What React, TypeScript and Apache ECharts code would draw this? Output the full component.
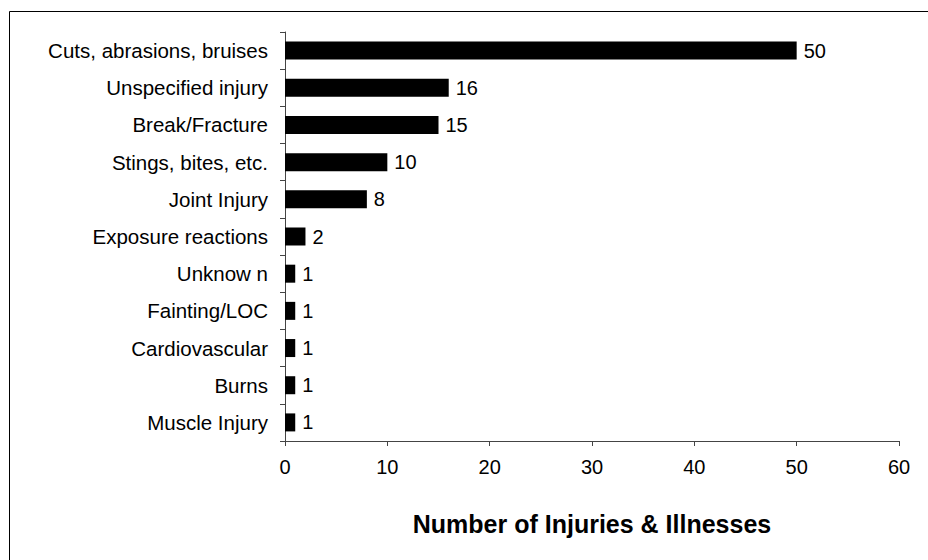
import React, { useEffect, useRef } from "react";
import * as echarts from "echarts";

const categories = [
  "Cuts, abrasions, bruises",
  "Unspecified injury",
  "Break/Fracture",
  "Stings, bites, etc.",
  "Joint Injury",
  "Exposure reactions",
  "Unknow n",
  "Fainting/LOC",
  "Cardiovascular",
  "Burns",
  "Muscle Injury",
];
const values = [50, 16, 15, 10, 8, 2, 1, 1, 1, 1, 1];
const xTicks = [0, 10, 20, 30, 40, 50, 60];
const xTitle = "Number of Injuries & Illnesses";

const FONT = "Arial, 'Liberation Sans', Helvetica, sans-serif";

export default function App() {
  const ref = useRef<HTMLDivElement>(null);
  useEffect(() => {
    document.body.style.margin = "0";
    const chart = echarts.init(ref.current!, null, { renderer: "svg" });
    chart.setOption({
      animation: false,
      backgroundColor: "#ffffff",
      textStyle: { fontFamily: FONT },
      graphic: [
        {
          type: "rect",
          shape: { x: 9.5, y: 11.5, width: 1000, height: 1000 },
          style: { fill: "none", stroke: "#000", lineWidth: 1 },
          silent: true,
          z: 0,
        },
      ],
      grid: { left: 285, right: 29, top: 32, bottom: 119, containLabel: false },
      xAxis: {
        type: "value",
        min: xTicks[0],
        max: xTicks[xTicks.length - 1],
        interval: 10,
        name: xTitle,
        nameLocation: "middle",
        nameGap: 70,
        nameTextStyle: { fontSize: 25, fontWeight: "bold", color: "#000", fontFamily: FONT },
        axisLine: { show: true, lineStyle: { color: "#444", width: 1 } },
        axisTick: { show: true, length: 5, inside: false, lineStyle: { color: "#444" } },
        axisLabel: { fontSize: 20, color: "#000", margin: 16, fontFamily: FONT },
        splitLine: { show: false },
      },
      yAxis: {
        type: "category",
        data: categories,
        inverse: true,
        axisLine: { show: true, lineStyle: { color: "#444", width: 1 } },
        axisTick: { show: true, length: 5, inside: false, lineStyle: { color: "#444" } },
        axisLabel: { fontSize: 20.5, color: "#000", margin: 17, fontFamily: FONT },
      },
      series: [
        {
          type: "bar",
          data: values,
          barWidth: 18,
          itemStyle: { color: "#000" },
          label: {
            show: true,
            position: "right",
            distance: 7,
            fontSize: 20,
            color: "#000",
            fontFamily: FONT,
          },
        },
      ],
    });
    return () => chart.dispose();
  }, []);
  return <div ref={ref} style={{ width: 928, height: 560 }} />;
}
